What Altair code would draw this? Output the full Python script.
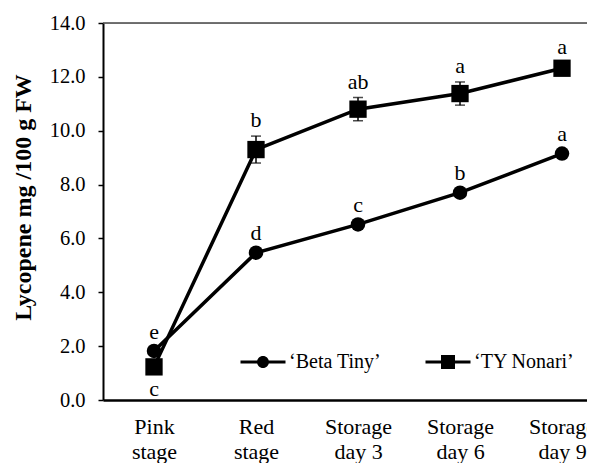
import altair as alt
import pandas as pd

# ---- data ----
stage_line1 = ["Pink", "Red", "Storage", "Storage", "Storage"]
stage_line2 = ["stage", "stage", "day 3", "day 6", "day 9"]
series_names = ["\u2018Beta Tiny\u2019", "\u2018TY Nonari\u2019"]

beta_mean = [1.82, 5.47, 6.52, 7.70, 9.15]
beta_sd = [0.12, 0.12, 0.12, 0.14, 0.14]
beta_letters = ["e", "d", "c", "b", "a"]
beta_place = ["above", "above", "above", "above", "above"]

ty_mean = [1.23, 9.30, 10.80, 11.38, 12.32]
ty_sd = [0.15, 0.50, 0.43, 0.43, 0.18]
ty_letters = ["c", "b", "ab", "a", "a"]
ty_place = ["below", "above", "above", "above", "above"]

y_ticks = [0, 2, 4, 6, 8, 10, 12, 14]

rows = []
for name, means, sds, letters, places in [
    (series_names[0], beta_mean, beta_sd, beta_letters, beta_place),
    (series_names[1], ty_mean, ty_sd, ty_letters, ty_place),
]:
    for i, (m, s, l, p) in enumerate(zip(means, sds, letters, places)):
        rows.append({"idx": i, "series": name, "mean": m, "lo": m - s, "hi": m + s,
                     "letter": l, "place": p})
df = pd.DataFrame(rows)

FONT = "Liberation Serif"
label_arr = "[" + ",".join(
    "['%s','%s']" % (a, b) for a, b in zip(stage_line1, stage_line2)) + "]"

xscale = alt.Scale(domain=[-0.5, 4.245], nice=False, zero=False)
yscale = alt.Scale(domain=[0, 14], nice=False, zero=False)

X = alt.X("idx:Q", scale=xscale, title=None,
          axis=alt.Axis(values=list(range(len(stage_line1))), labelExpr=label_arr + "[datum.value]",
                        ticks=False, tickSize=0, grid=False, domainColor="black", domainWidth=2.5,
                        labelFont=FONT, labelFontSize=22, labelLineHeight=25, labelPadding=16,
                        labelColor="black", labelBaseline="top"))
Y = alt.Y("mean:Q", scale=yscale, title="Lycopene mg /100 g FW",
          axis=alt.Axis(values=y_ticks, format=".1f", grid=False, domainColor="black", domainWidth=2,
                        tickColor="black", tickSize=5, tickWidth=1.5,
                        labelFont=FONT, labelFontSize=20.5, labelColor="black", labelPadding=13,
                        titleFont=FONT, titleFontSize=24, titleFontWeight="bold", titleColor="black",
                        titlePadding=14, titleY=174))

base = alt.Chart(df)

top_rule = alt.Chart(pd.DataFrame({"v": [14]})).mark_rule(color="#444", strokeWidth=1.3).encode(
    y=alt.Y("v:Q", scale=yscale))

lines = base.mark_line(color="black", strokeWidth=3.5).encode(x=X, y=Y, detail="series:N")

err = base.mark_rule(color="black", strokeWidth=1.5).encode(
    x=alt.X("idx:Q", scale=xscale), y=alt.Y("lo:Q", scale=yscale), y2="hi:Q")
cap_lo = base.mark_tick(color="black", orient="horizontal", size=10, thickness=1.5).encode(
    x=alt.X("idx:Q", scale=xscale), y=alt.Y("lo:Q", scale=yscale))
cap_hi = base.mark_tick(color="black", orient="horizontal", size=10, thickness=1.5).encode(
    x=alt.X("idx:Q", scale=xscale), y=alt.Y("hi:Q", scale=yscale))

points = base.mark_point(filled=True, color="black", opacity=1).encode(
    x=alt.X("idx:Q", scale=xscale), y=alt.Y("mean:Q", scale=yscale),
    shape=alt.Shape("series:N", scale=alt.Scale(domain=series_names, range=["circle", "square"]),
                    legend=None),
    size=alt.Size("series:N", scale=alt.Scale(domain=series_names, range=[210, 300]), legend=None))

# legend glyphs: a filled bar (the line) plus the marker, all wound clockwise
circle_path = ("M-2.25,-0.15H2.25V0.15H-2.25Z"
               "M-0.6,0A0.6,0.6,0,1,1,0.6,0A0.6,0.6,0,1,1,-0.6,0Z")
square_path = "M-2.25,-0.15H2.25V0.15H-2.25ZM-0.7,-0.7H0.7V0.7H-0.7Z"

# legend-only layer: no rows drawn, the legend comes from the shape scale's domain
legend_layer = base.transform_filter("false").transform_calculate(leg="datum.series").mark_point(
    filled=True, color="black", opacity=1).encode(
    x=alt.X("idx:Q", scale=xscale), y=alt.Y("mean:Q", scale=yscale),
    shape=alt.Shape("leg:N", scale=alt.Scale(domain=series_names, range=[circle_path, square_path]),
                    legend=alt.Legend(orient="none", legendX=150, legendY=329, direction="horizontal",
                                      title=None, symbolSize=400, symbolStrokeWidth=0,
                                      symbolOpacity=1, symbolFillColor="black",
                                      labelFont=FONT, labelFontSize=20,
                                      labelColor="black", labelOffset=16, columnPadding=43,
                                      labelLimit=300)))

text_above = base.transform_filter("datum.place == 'above'").mark_text(
    font=FONT, fontSize=22, color="black", baseline="middle", dy=-16).encode(
    x=alt.X("idx:Q", scale=xscale), y=alt.Y("hi:Q", scale=yscale), text="letter:N")
text_below = base.transform_filter("datum.place == 'below'").mark_text(
    font=FONT, fontSize=22, color="black", baseline="middle", dy=18).encode(
    x=alt.X("idx:Q", scale=xscale), y=alt.Y("lo:Q", scale=yscale), text="letter:N")

chart = alt.layer(top_rule, lines, err, cap_lo, cap_hi, points, legend_layer, text_above, text_below
                  ).resolve_scale(shape="independent", size="independent").properties(
    width=484, height=377, autosize=alt.AutoSizeParams(type="none"),
    padding={"left": 95, "top": 15, "right": 0, "bottom": 63}
).configure_view(stroke=None).configure(background="white")

chart.save("out.html", embed_options={"renderer": "svg", "actions": False})
